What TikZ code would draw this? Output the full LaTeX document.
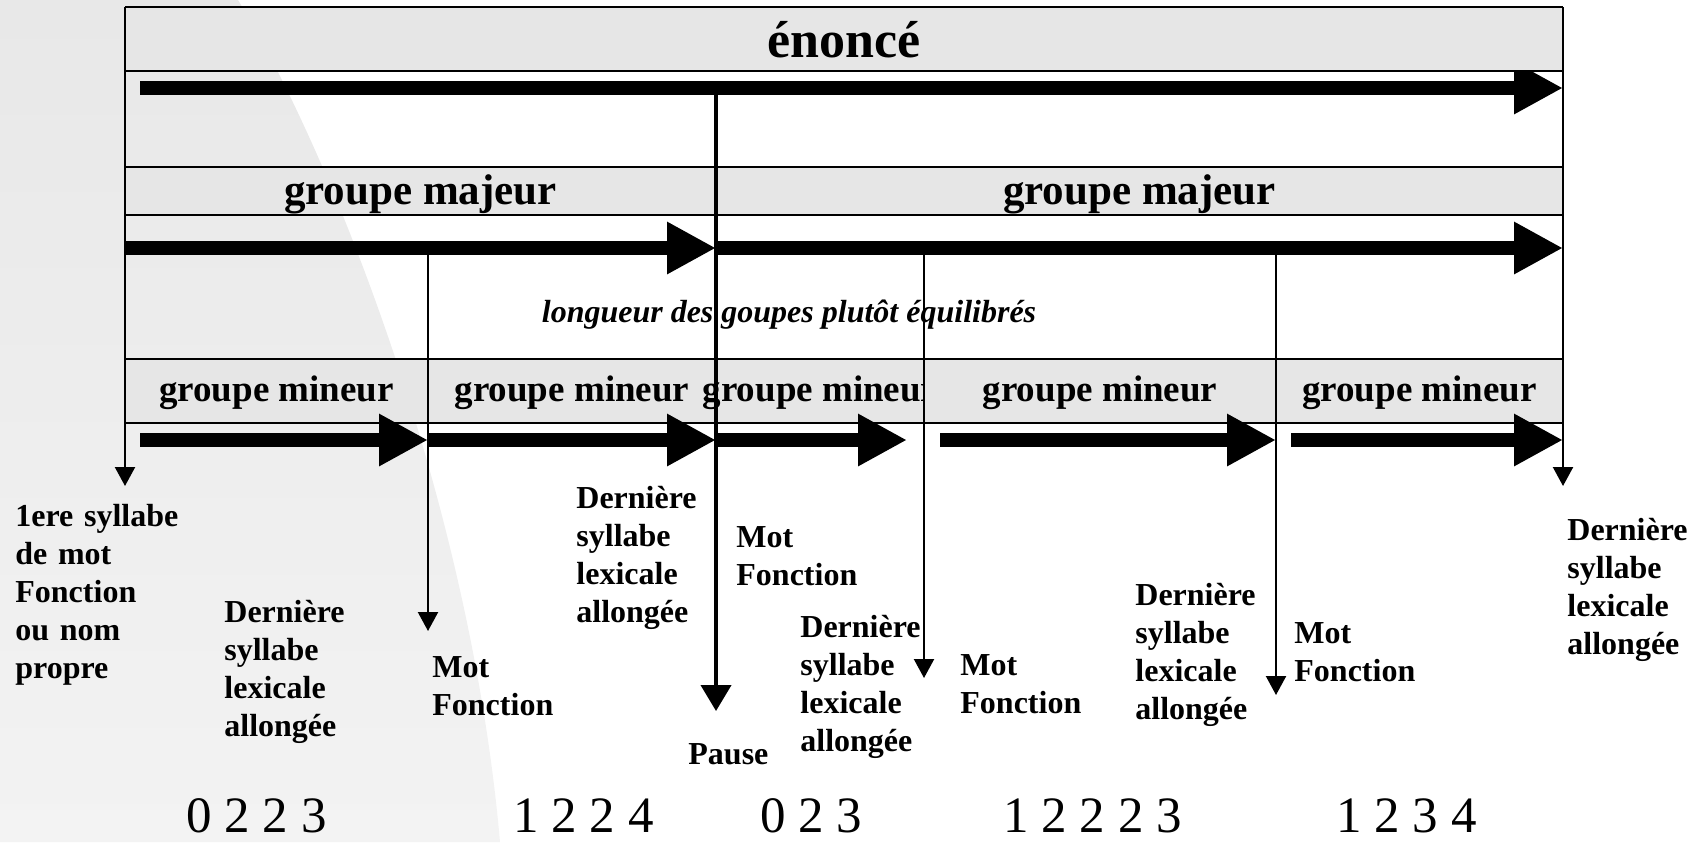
\documentclass[tikz,border=0pt]{standalone}
\usepackage{fontspec}
\setmainfont{Liberation Serif}
\usetikzlibrary{arrows.meta}

\definecolor{bandgray}{HTML}{E6E6E6}
\definecolor{backtop}{HTML}{E8E8E8}
\definecolor{backbot}{HTML}{F3F3F3}

\tikzset{
  band/.style={fill=bandgray},
  gridline/.style={line width=1.1pt},
  bigarrow/.style={line width=7pt,-{Triangle[width=24.5pt,length=24.5pt]}},
  markarrow/.style={line width=1.1pt,-{Triangle[width=10pt,length=9.5pt]}},
  pausearrow/.style={line width=2pt,-{Triangle[width=15pt,length=13pt]}},
  title/.style={anchor=base,inner sep=0pt,font=\bfseries\fontsize{#1}{#1}\selectfont},
  lbl/.style={anchor=base west,inner sep=0pt,align=left,text width=3cm,
    font=\bfseries\fontsize{16}{19}\selectfont},
  count/.style={anchor=base west,inner sep=0pt,font=\fontsize{25.5}{30}\selectfont}
}

\begin{document}
\begin{tikzpicture}[x=0.5pt,y=-0.5pt]
\useasboundingbox (0,0) rectangle (1702,842);

% fond
\shade [top color=backtop, bottom color=backbot] (0,0) -- (238,0)
  .. controls (330,150) and (470,500) .. (500,842) -- (0,842) -- cycle;

% fleche de l'enonce
\coordinate (e0) at (140,88);
\coordinate (e1) at (1563,88);
\draw [bigarrow] (e0) -- (e1);

% bandes
\fill [band] (125,7) rectangle (1563,71);
\fill [band] (125,167) rectangle (1563,215);
\fill [band] (125,359) rectangle (1563,423);

\foreach \y in {7,71,167,215,359,423}
  \draw [gridline] (125,\y) -- (1563,\y);

% titres
\node [title=26] (enonce) at (844,57) {énoncé};
\node [title=21.5] (maj1) at (420.5,204) {groupe majeur};
\node [title=21.5] (maj2) at (1139.5,204) {groupe majeur};
\node [title=18.5] (min1) at (276.5,401) {groupe mineur};
\node [title=18.5] (min2) at (572,401) {groupe mineur};
\begin{scope}
\clip (600,359) rectangle (924,423);
\node [title=18.5] (min3) at (820,401) {groupe mineur};
\end{scope}
\node [title=18.5] (min4) at (1100,401) {groupe mineur};
\node [title=18.5] (min5) at (1419.5,401) {groupe mineur};

\node [anchor=base,inner sep=0pt,font=\bfseries\itshape\fontsize{16}{19}\selectfont] (longueur)
  at (789,322) {longueur des goupes plutôt équilibrés};

% groupes majeurs
\coordinate (g0) at (125,248);
\coordinate (g1) at (716,248);
\coordinate (g2) at (1563,248);
\draw [bigarrow] (g0) -- (g1);
\draw [bigarrow] (g1) -- (g2);

% groupes mineurs
\draw [bigarrow] (140,440) -- (428,440);
\draw [bigarrow] (428,440) -- (716,440);
\draw [bigarrow] (716,440) -- (907,440);
\draw [bigarrow] (940,440) -- (1276,440);
\draw [bigarrow] (1291,440) -- (1563,440);

% frontieres
\draw [markarrow] (125,7) -- (125,486);
\draw [markarrow] (1563,7) -- (1563,486);
\draw [markarrow] (428,255) -- (428,631);
\draw [markarrow] (924,255) -- (924,678);
\draw [markarrow] (1276,255) -- (1276,695);
\draw [pausearrow] (716,92) -- (716,711);

% etiquettes
\node [lbl] (l1) at (15,526) {1ere syllabe\\de mot\\Fonction\\ou nom\\propre};
\node [lbl] (l2) at (224,622) {Dernière\\syllabe\\lexicale\\allongée};
\node [lbl] (l3) at (432,677) {Mot\\Fonction};
\node [lbl] (l4) at (576,508) {Dernière\\syllabe\\lexicale\\allongée};
\node [lbl] (l5) at (736,547) {Mot\\Fonction};
\node [lbl] (l6) at (688,764) {Pause};
\node [lbl] (l7) at (800,637) {Dernière\\syllabe\\lexicale\\allongée};
\node [lbl] (l8) at (960,675) {Mot\\Fonction};
\node [lbl] (l9) at (1135,605) {Dernière\\syllabe\\lexicale\\allongée};
\node [lbl] (l10) at (1294,643) {Mot\\Fonction};
\node [lbl] (l11) at (1567,540) {Dernière\\syllabe\\lexicale\\allongée};

% comptes
\node [count] (c1) at (186,832) {0 2 2 3};
\node [count] (c2) at (513,832) {1 2 2 4};
\node [count] (c3) at (760,832) {0 2 3};
\node [count] (c4) at (1003,832) {1 2 2 2 3};
\node [count] (c5) at (1336,832) {1 2 3 4};

\end{tikzpicture}
\end{document}
